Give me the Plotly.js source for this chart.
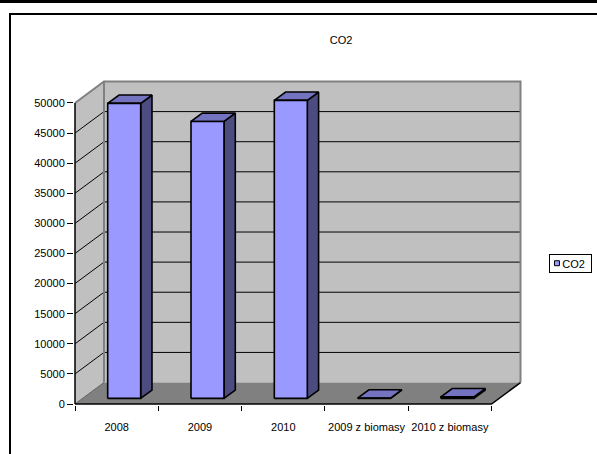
<!DOCTYPE html>
<html>
<head>
<meta charset="utf-8">
<script src="https://cdn.plot.ly/plotly-3.0.1.min.js"></script>
<style>
  html, body { margin: 0; padding: 0; background: #fff; }
  #wrap { position: relative; width: 597px; height: 454px; overflow: hidden; }
  #chart { position: absolute; left: 0; top: 0; width: 597px; height: 454px; }
  #topband { position: absolute; left: 0; top: 0; width: 597px; height: 3px; background: #000; pointer-events: none; }
  #frame { position: absolute; left: 9px; top: 13px; width: 700px; height: 600px; border-left: 2px solid #000; border-top: 2px solid #000; pointer-events: none; }
</style>
</head>
<body>
<div id="wrap">
  <div id="chart"></div>
  <div id="topband"></div>
  <div id="frame"></div>
</div>
<script>
// ---- data ----
const categories = ['2008', '2009', '2010', '2009 z biomasy', '2010 z biomasy'];
const co2 = [49000, 46000, 49500, 50, 250];
const yTickVals = [0, 5000, 10000, 15000, 20000, 25000, 30000, 35000, 40000, 45000, 50000];
const yTickText = ['0', '5000', '10000', '15000', '20000', '25000', '30000', '35000', '40000', '45000', '50000'];
const seriesName = 'CO2';
const chartTitle = 'CO2';

// ---- 3D projection settings (styling) ----
const DX = 0.348;      // depth offset in category units
const DY = 3565;       // depth offset in value units
const D0 = 0.26, D1 = 0.65; // bar depth range
const HW = 0.198;      // half bar width
const YMAX = yTickVals[yTickVals.length - 1];
const nCat = categories.length;
const xL = -0.5, xR = nCat - 0.5;

const FONT = 'Liberation Sans, Arial, sans-serif';
const traces = [];
function poly(xs, ys, fill, lineColor, lineW) {
  traces.push({
    type: 'scatter', mode: 'lines', x: xs.concat([xs[0]]), y: ys.concat([ys[0]]),
    fill: 'toself', fillcolor: fill,
    line: { color: lineColor || 'rgba(0,0,0,0)', width: lineW || 0 },
    hoverinfo: 'skip', showlegend: false
  });
}
function seg(xs, ys, color, w) {
  traces.push({
    type: 'scatter', mode: 'lines', x: xs, y: ys,
    line: { color: color, width: w }, hoverinfo: 'skip', showlegend: false
  });
}

// back wall
poly([xL + DX, xR + DX, xR + DX, xL + DX], [DY, DY, YMAX + DY, YMAX + DY], '#c0c0c0');
// side wall
poly([xL, xL + DX, xL + DX, xL], [0, DY, YMAX + DY, YMAX], '#c0c0c0');
// floor
poly([xL, xR, xR + DX, xL + DX], [0, 0, DY, DY], '#808080');

// gridlines
yTickVals.forEach(function (v) {
  if (v > 0 && v < YMAX) {
    seg([xL + DX, xR + DX], [v + DY, v + DY], '#000', 1);
    seg([xL, xL + DX], [v, v + DY], '#000', 1);
  }
});
// wall edges
seg([xL, xL + DX, xR + DX, xR + DX], [YMAX, YMAX + DY, YMAX + DY, DY], '#808080', 2);
seg([xL + DX, xL + DX], [DY, YMAX + DY], '#808080', 2);
seg([xL, xL + DX], [0, DY], '#606060', 1);
// front axis edges
seg([xL, xL], [0, YMAX], '#000', 1.5);
seg([xL, xR, xR + DX], [0, 0, DY], '#000', 1.5);

// bars
co2.forEach(function (v, i) {
  const fx0 = i - HW + D0 * DX, fx1 = i + HW + D0 * DX;
  const bx0 = i - HW + D1 * DX, bx1 = i + HW + D1 * DX;
  const fy = D0 * DY, by = D1 * DY;
  // side
  poly([fx1, bx1, bx1, fx1], [fy, by, v + by, v + fy], '#4c4c80', '#000', 1.6);
  // top
  poly([fx0, fx1, bx1, bx0], [v + fy, v + fy, v + by, v + by], '#7373bf', '#000', 1.6);
  // front
  poly([fx0, fx1, fx1, fx0], [fy, fy, v + fy, v + fy], '#9999ff', '#000', 1.6);
});

// plot-area pixel geometry
const pxPerCat = 83.4, pxPerVal = 0.00603;
const xRange = [xL - 1 / pxPerCat, xR + DX + 1.5 / pxPerCat];
const yRange = [-1 / pxPerVal, YMAX + DY + 1.5 / pxPerVal];

const layout = {
  width: 597, height: 454,
  margin: { l: 74, r: 74.5, t: 80, b: 48.5, pad: 0 },
  paper_bgcolor: '#fff', plot_bgcolor: 'rgba(0,0,0,0)',
  showlegend: false, hovermode: false,
  font: { family: FONT, size: 11, color: '#000' },
  title: { text: chartTitle, font: { family: FONT, size: 11, color: '#000' },
           xref: 'container', yref: 'container', x: 341 / 597, xanchor: 'center',
           y: 1 - 40 / 454, yanchor: 'middle' },
  xaxis: {
    range: xRange, showgrid: false, zeroline: false, showline: false,
    tickmode: 'array', tickvals: categories.map(function (c, i) { return i; }), ticktext: categories,
    ticks: 'outside', ticklen: 12, tickcolor: 'rgba(0,0,0,0)',
    tickfont: { family: FONT, size: 11, color: '#000' },
    minor: { tickmode: 'array', tickvals: categories.map(function (c, i) { return i - 0.5; }).concat([xR]),
             ticks: 'outside', ticklen: 5, tickwidth: 1, tickcolor: '#000', showgrid: false },
    fixedrange: true
  },
  yaxis: {
    range: yRange, showgrid: false, zeroline: false, showline: false,
    tickmode: 'array', tickvals: yTickVals, ticktext: yTickText,
    ticks: 'outside', ticklen: 6, tickwidth: 1, tickcolor: '#000',
    tickfont: { family: FONT, size: 11, color: '#000' },
    fixedrange: true
  },
  annotations: [{
    xref: 'paper', yref: 'paper', x: (550 - 74) / 448.5, y: (405.5 - 254) / 325.5,
    xanchor: 'left', yanchor: 'top', showarrow: false,
    text: '&nbsp;&nbsp;' + seriesName, width: 41, height: 17, align: 'center',
    bordercolor: '#000', borderwidth: 1, borderpad: 0, bgcolor: 'rgba(0,0,0,0)',
    font: { family: FONT, size: 11, color: '#000' }
  }],
  shapes: [{
    type: 'rect', xref: 'paper', yref: 'paper', layer: 'above',
    x0: (555 - 74) / 448.5, x1: (560 - 74) / 448.5,
    y0: (405.5 - 266) / 325.5, y1: (405.5 - 261) / 325.5,
    fillcolor: '#9999ff', line: { color: '#000', width: 1 }
  }]
};

Plotly.newPlot('chart', traces, layout, { displayModeBar: false, staticPlot: true });
</script>
</body>
</html>
